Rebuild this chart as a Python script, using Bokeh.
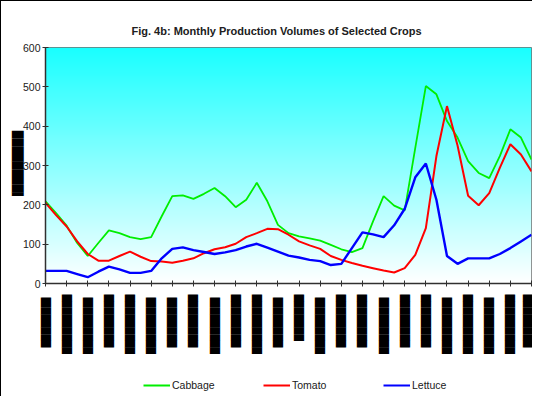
import numpy as np
from bokeh.plotting import figure
from bokeh.layouts import column
from bokeh.models import Range1d, FixedTicker, Legend, LegendItem
from bokeh.embed import file_html
from bokeh.resources import INLINE

title_text = "Fig. 4b: Monthly Production Volumes of Selected Crops"
series_names = ["Cabbage", "Tomato", "Lettuce"]
series_colors = ["#00EE00", "#FF0000", "#0000FF"]
series_widths = [1.8, 2.0, 2.4]

# 24 month ticks; values read at every half month step
n_months = 24
y_ticks = [0, 100, 200, 300, 400, 500, 600]

# tick labels appear as solid black bars in the reference
x_label_lengths = [7.5, 9, 8.5, 8, 9, 8.5, 7.5, 8, 8.5, 8, 9, 7.5,
                   7, 8.5, 8, 8, 8.5, 8, 8, 8.5, 9, 8.5, 9, 8]
y_label_length = 8.5

cabbage = [209, 179, 147, 103, 70, 103, 135, 128, 118, 113, 118, 171, 222, 224,
           215, 228, 243, 222, 194, 213, 256, 209, 149, 128, 120, 115, 109, 98,
           87, 80, 90, 158, 222, 198, 186, 345, 502, 481, 413, 371, 311, 281,
           268, 324, 392, 371, 315]
tomato = [205, 174, 145, 107, 75, 58, 58, 70, 81, 68, 57, 56, 53, 58, 64, 77, 87,
          92, 101, 118, 128, 139, 138, 124, 107, 97, 88, 70, 60, 52, 45, 39, 33,
          28, 39, 73, 141, 324, 451, 351, 223, 199, 230, 294, 354, 328, 285]
lettuce = [32, 32, 32, 24, 16, 30, 43, 36, 27, 27, 32, 64, 88, 92, 85, 80, 75,
           79, 85, 94, 101, 91, 81, 71, 66, 60, 57, 47, 50, 90, 130, 125, 118,
           148, 190, 270, 305, 213, 70, 50, 64, 64, 64, 75, 90, 107, 124]

series = [cabbage, tomato, lettuce]

x_max = n_months - 1
y_max = y_ticks[-1]
xs = [i * 0.5 for i in range(len(cabbage))]

FONT = "Liberation Sans, Arial, sans-serif"
BLOCK = "\u2588"
HALF = "\u2590"


def bar_text(n):
    s = BLOCK * int(n)
    if n - int(n) >= 0.5:
        s = HALF + s
    return s


W = 531
H_MAIN = 361
H_LEG = 34
TOP = 46
FRAME_H = 235.5

p = figure(width=W, height=H_MAIN, output_backend="svg", toolbar_location=None,
           x_range=Range1d(0, x_max), y_range=Range1d(0, y_max),
           min_border_left=44, min_border_right=1, min_border_top=TOP,
           min_border_bottom=int(H_MAIN - TOP - FRAME_H))
p.background_fill_color = "white"
p.border_fill_color = "white"
p.outline_line_color = "#707070"
p.outline_line_width = 1
p.grid.visible = False

# background gradient (cyan at top to white at bottom)
rows = 240
t = np.linspace(0.0, 1.0, rows)
top_rgb = np.array([26, 255, 255], dtype=float)
bot_rgb = np.array([255, 255, 255], dtype=float)
rgb = bot_rgb[None, :] + (top_rgb - bot_rgb)[None, :] * t[:, None]
img = np.empty((rows, 1), dtype=np.uint32)
view = img.view(dtype=np.uint8).reshape((rows, 1, 4))
view[:, 0, 0] = rgb[:, 0].astype(np.uint8)
view[:, 0, 1] = rgb[:, 1].astype(np.uint8)
view[:, 0, 2] = rgb[:, 2].astype(np.uint8)
view[:, 0, 3] = 255
p.image_rgba(image=[img], x=0, y=0, dw=x_max, dh=y_max)

for name, vals, col, w in zip(series_names, series, series_colors, series_widths):
    p.line(xs, vals, line_color=col, line_width=w)

# title
p.title.text = title_text
p.title.align = "left"
p.title.offset = 86
p.title.text_font = FONT
p.title.text_font_size = "11px"
p.title.text_font_style = "bold"
p.title.text_color = "#202020"
p.title.standoff = 22

# axes
for ax in (p.xaxis[0], p.yaxis[0]):
    ax.axis_line_color = "#303030"
    ax.axis_line_width = 1.5
    ax.major_tick_line_color = "#303030"
    ax.major_tick_line_width = 1
    ax.major_tick_in = 3
    ax.major_tick_out = 3
    ax.minor_tick_line_color = None

p.yaxis.ticker = FixedTicker(ticks=y_ticks)
p.yaxis.major_label_text_font = FONT
p.yaxis.major_label_text_font_size = "10.5px"
p.yaxis.major_label_text_color = "#202020"
p.yaxis.major_label_standoff = 2
p.yaxis.axis_label = bar_text(y_label_length)
p.yaxis.axis_label_text_font = "DejaVu Sans"
p.yaxis.axis_label_text_font_size = "10px"
p.yaxis.axis_label_text_font_style = "normal"
p.yaxis.axis_label_text_color = "black"
p.yaxis.axis_label_standoff = -3

p.xaxis.ticker = FixedTicker(ticks=list(range(n_months)))
p.xaxis.major_label_overrides = {i: bar_text(n) for i, n in enumerate(x_label_lengths)}
p.xaxis.major_label_orientation = "vertical"
p.xaxis.major_label_text_font = "DejaVu Sans"
p.xaxis.major_label_text_font_size = "8.6px"
p.xaxis.major_label_text_color = "black"
p.xaxis.major_label_standoff = 8

# legend strip below the chart
lf = figure(width=W, height=H_LEG, output_backend="svg", toolbar_location=None,
            x_range=Range1d(0, 1), y_range=Range1d(0, 1), min_border=0,
            x_axis_type=None, y_axis_type=None)
lf.grid.visible = False
lf.outline_line_color = None
lf.background_fill_color = "white"
lf.border_fill_color = "white"
items = []
for name, col in zip(series_names, series_colors):
    r = lf.line([-5, -4], [-5, -4], line_color=col, line_width=2)
    items.append(LegendItem(label=name, renderers=[r]))

legend = Legend(items=items, orientation="horizontal", location=(98, 3))
legend.label_text_font = FONT
legend.label_text_font_size = "10.5px"
legend.label_text_color = "#202020"
legend.glyph_width = 27
legend.glyph_height = 16
legend.label_width = 44
legend.label_standoff = 2
legend.spacing = 47
legend.padding = 0
legend.margin = 0
legend.border_line_color = None
legend.background_fill_alpha = 0
lf.add_layout(legend, "center")

layout = column(p, lf, spacing=0,
                styles={"border-left": "1px solid #000", "border-top": "1px solid #000"})
open("out.html", "w").write(file_html(layout, INLINE))
